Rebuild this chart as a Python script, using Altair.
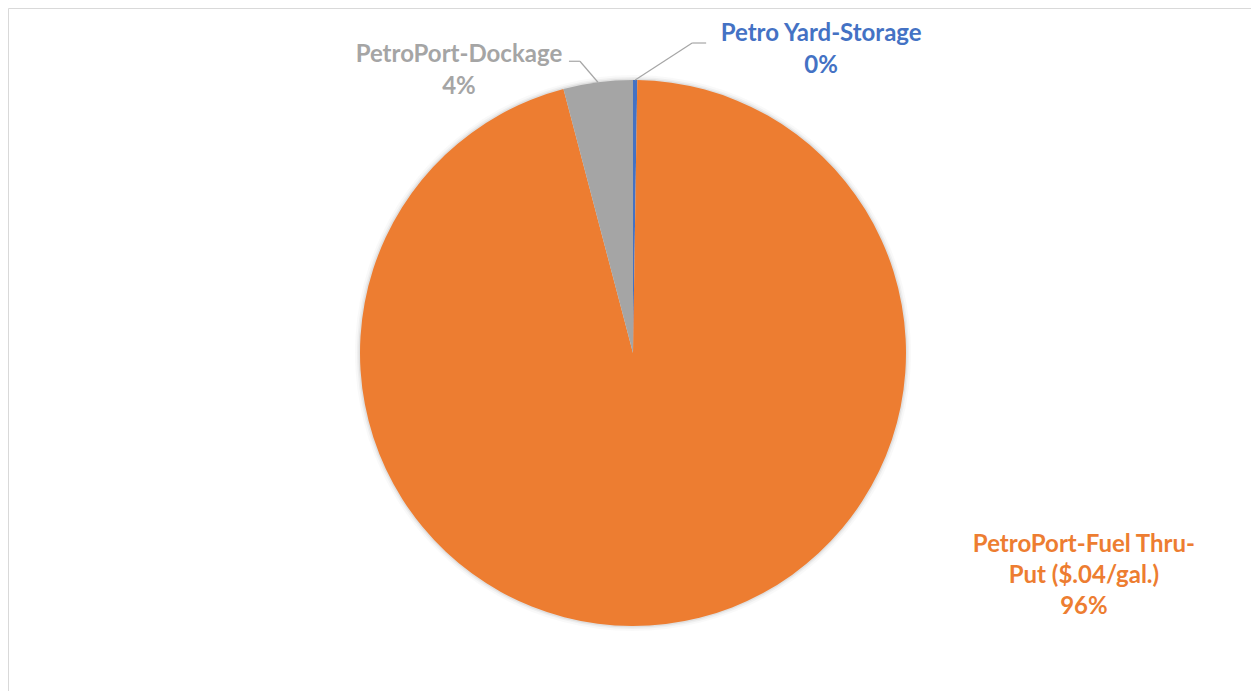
import altair as alt
import pandas as pd

# ---- data ----
categories = ["Petro Yard-Storage", "PetroPort-Fuel Thru-Put ($.04/gal.)", "PetroPort-Dockage"]
values = [0.25, 95.65, 4.1]
percent_labels = ["0%", "96%", "4%"]
wrapped_names = ["Petro Yard-Storage", "PetroPort-Fuel Thru-\nPut ($.04/gal.)", "PetroPort-Dockage"]
colors = ["#4472C4", "#ED7D31", "#A5A5A5"]

df = pd.DataFrame({
    "category": categories,
    "value": values,
    "order": list(range(len(categories))),
    "label": [n + "\n" + p for n, p in zip(wrapped_names, percent_labels)],
})

W, H = 1243, 690
CX, CY, R = 625, 345, 273
FONT = "Lato"

color_scale = alt.Scale(domain=categories, range=colors)

base = alt.Chart(df).encode(
    theta=alt.Theta("value:Q", stack=True),
    order=alt.Order("order:Q"),
    x=alt.value(CX),
    y=alt.value(CY),
)

shadows = [
    base.mark_arc(outerRadius=R + r, opacity=o, color="#000000")
    for r, o in [(5, 0.025), (3, 0.04), (1.5, 0.06)]
]

pie = base.mark_arc(outerRadius=R).encode(
    color=alt.Color("category:N", scale=color_scale, legend=None)
)

# slice mid-angle anchor points on the pie edge, computed from the data
geo = alt.Chart(df).transform_joinaggregate(
    total="sum(value)"
).transform_window(
    cum="sum(value)", sort=[alt.SortField("order")], frame=[None, 0]
).transform_calculate(
    mid="(datum.cum - datum.value / 2) / datum.total * 2 * PI",
).transform_calculate(
    x0=f"{CX} + {R} * sin(datum.mid)",
    y0=f"{CY} - {R} * cos(datum.mid)",
)


def label_layer(cat, dx, dy, lh):
    return geo.transform_filter(alt.datum.category == cat).mark_text(
        dx=dx, dy=dy, font=FONT, fontWeight="bold", fontSize=24,
        lineBreak="\n", lineHeight=lh, align="center", baseline="middle",
    ).encode(
        x=alt.X("x0:Q", scale=None),
        y=alt.Y("y0:Q", scale=None),
        text="label:N",
        color=alt.Color("category:N", scale=color_scale, legend=None),
    )


labels = [
    label_layer(categories[0], 186, -46, 32),
    label_layer(categories[2], -139, -27, 32),
    label_layer(categories[1], 418, -79, 31),
]

leader_base = geo.transform_filter(
    alt.datum.category != categories[1]
).transform_calculate(
    ex=f"datum.category == '{categories[0]}' ? 57 : -18",
    ey=f"datum.category == '{categories[0]}' ? -37 : -21",
    hx=f"datum.category == '{categories[0]}' ? 14 : -11",
).transform_calculate(
    x1="datum.x0 + datum.ex",
    y1="datum.y0 + datum.ey",
).transform_calculate(
    x2="datum.x1 + datum.hx",
)

seg1 = leader_base.mark_rule(color="#A6A6A6", strokeWidth=1.2).encode(
    x=alt.X("x0:Q", scale=None), y=alt.Y("y0:Q", scale=None),
    x2="x1:Q", y2="y1:Q",
)
seg2 = leader_base.mark_rule(color="#A6A6A6", strokeWidth=1.2).encode(
    x=alt.X("x1:Q", scale=None), y=alt.Y("y1:Q", scale=None),
    x2="x2:Q", y2="y1:Q",
)

chart = alt.layer(*shadows, pie, seg1, seg2, *labels).properties(
    width=W, height=H, padding=0,
    autosize=alt.AutoSizeParams(type="fit", contains="padding"),
    background="white",
).configure_view(stroke="#D9D9D9", strokeWidth=1)

chart.save("out.html", embed_options={"renderer": "svg", "actions": False})
